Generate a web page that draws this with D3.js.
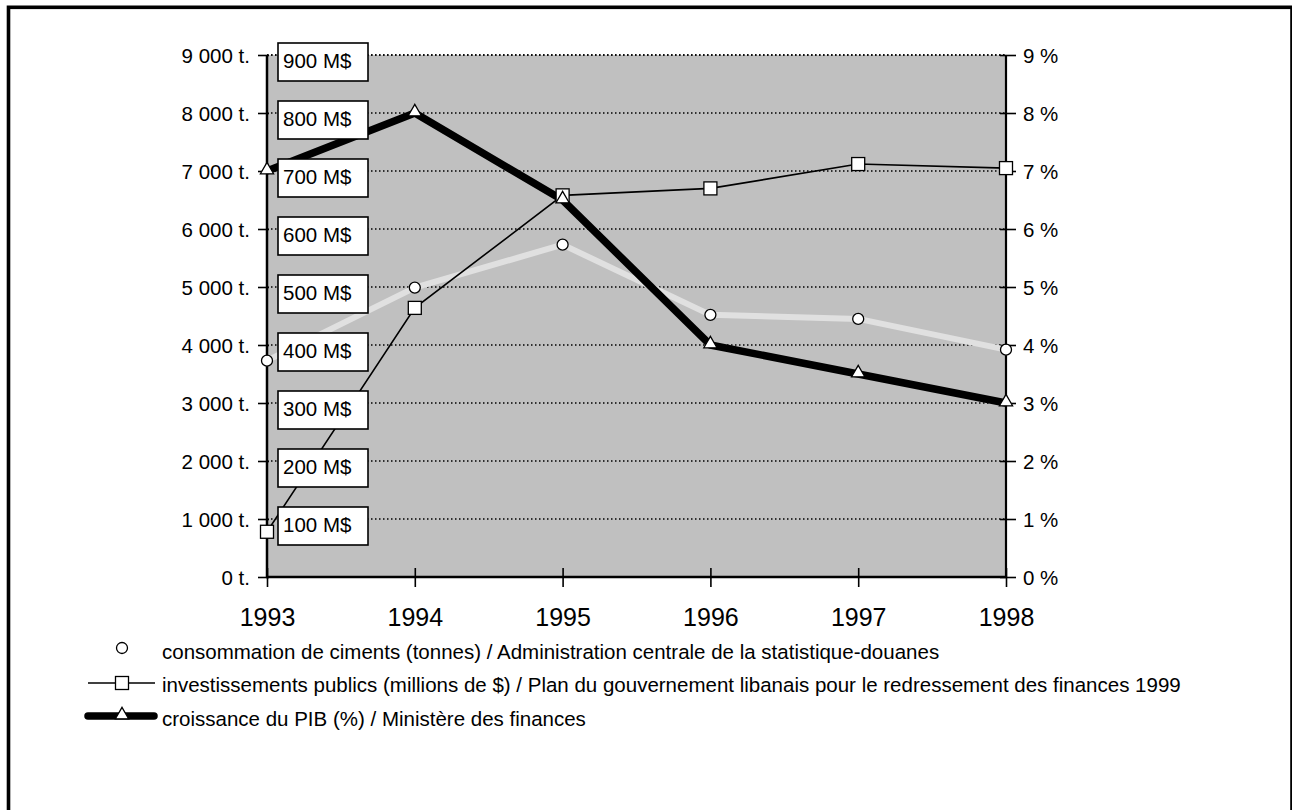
<!DOCTYPE html>
<html><head><meta charset="utf-8">
<script src="https://cdn.jsdelivr.net/npm/d3@7"></script>
<style>
html,body{margin:0;padding:0;background:#fff;overflow:hidden;}
svg{display:block;font-family:"Liberation Sans",Arial,sans-serif;}
</style></head>
<body>
<svg id="c" width="1292" height="810"></svg>
<script>
const years = [1993, 1994, 1995, 1996, 1997, 1998];
const cement = [3730, 4990, 5730, 4520, 4450, 3920];      // tonnes
const invest = [78, 464, 658, 670, 712, 705];             // millions $
const gdp = [7, 8, 6.5, 4, 3.5, 3];                        // %
const leftTicks = [0,1000,2000,3000,4000,5000,6000,7000,8000,9000];
const rightTicks = [0,1,2,3,4,5,6,7,8,9];
const mTicks = [100,200,300,400,500,600,700,800,900];
const legendLabels = [
  "consommation de ciments (tonnes) / Administration centrale de la statistique-douanes",
  "investissements publics (millions de $) / Plan du gouvernement libanais pour le redressement des finances 1999",
  "croissance du PIB (%) / Ministère des finances"
];

const svg = d3.select("#c");
const X0 = 267, X1 = 1006, Y0 = 577, Y1 = 55;
const x = d3.scalePoint().domain(years).range([X0, X1]);
const yL = d3.scaleLinear().domain([0, 9000]).range([Y0, Y1]);
const yR = d3.scaleLinear().domain([0, 9]).range([Y0, Y1]);
const yM = d3.scaleLinear().domain([0, 900]).range([Y0, Y1]);

// outer frame (bottom edge lies below the picture)
svg.append("rect").attr("x", 8.5).attr("y", 7.3).attr("width", 1283.5).attr("height", 830)
  .attr("fill", "none").attr("stroke", "#000").attr("stroke-width", 3.6);

// plot background
svg.append("rect").attr("x", X0).attr("y", Y1).attr("width", X1 - X0).attr("height", Y0 - Y1)
  .attr("fill", "#c0c0c0");

// gridlines
svg.append("g").selectAll("line").data(leftTicks.filter(d => d > 0)).join("line")
  .attr("x1", X0).attr("x2", X1).attr("y1", d => yL(d)).attr("y2", d => yL(d))
  .attr("stroke", "#000").attr("stroke-width", 1.5).attr("stroke-dasharray", "1.5,2.5");

// axes
const fmtT = d => d3.format(",")(d).replace(/,/g, " ") + " t.";
const gL = svg.append("g").attr("transform", `translate(${X0},0)`)
  .call(d3.axisLeft(yL).tickValues(leftTicks).tickFormat(fmtT).tickSize(9).tickPadding(8));
const gR = svg.append("g").attr("transform", `translate(${X1},0)`)
  .call(d3.axisRight(yR).tickValues(rightTicks).tickFormat(d => d + " %").tickSize(10).tickPadding(7));
const gB = svg.append("g").attr("transform", `translate(0,${Y0})`)
  .call(d3.axisBottom(x).tickSize(10).tickPadding(21));
[gL, gR, gB].forEach(g => {
  g.select(".domain").remove();
  g.selectAll(".tick line").attr("stroke", "#000").attr("stroke-width", 1.6);
  g.selectAll(".tick text").attr("fill", "#000").attr("font-family", "Liberation Sans, Arial, sans-serif");
});
gL.selectAll(".tick line").attr("x2", -9).attr("x1", 2);
gR.selectAll(".tick line").attr("x1", -6);
gB.selectAll(".tick line").attr("y1", -9);
gL.selectAll(".tick text").attr("font-size", 20.5).attr("dy", "0.36em");
gR.selectAll(".tick text").attr("font-size", 20.5).attr("dy", "0.36em");
gB.selectAll(".tick text").attr("font-size", 25).attr("dy", "0.71em");

// axis lines
svg.append("line").attr("x1", X0).attr("x2", X0).attr("y1", Y1).attr("y2", Y0 + 1)
  .attr("stroke", "#000").attr("stroke-width", 2.5);
svg.append("line").attr("x1", X1).attr("x2", X1).attr("y1", Y1).attr("y2", Y0 + 1)
  .attr("stroke", "#000").attr("stroke-width", 2.2);
svg.append("line").attr("x1", X0 - 1).attr("x2", X1 + 1).attr("y1", Y0).attr("y2", Y0)
  .attr("stroke", "#000").attr("stroke-width", 2.5);
// top line (9 000)
svg.append("line").attr("x1", X0).attr("x2", X1).attr("y1", Y1).attr("y2", Y1)
  .attr("stroke", "#000").attr("stroke-width", 1.5).attr("stroke-dasharray", "1.5,2.5");

// series lines
const lineC = d3.line().x((d, i) => x(years[i])).y(d => yL(d));
const lineI = d3.line().x((d, i) => x(years[i])).y(d => yM(d));
const lineG = d3.line().x((d, i) => x(years[i])).y(d => yR(d));
svg.append("path").datum(cement).attr("d", lineC).attr("fill", "none")
  .attr("stroke", "#e0e0e0").attr("stroke-width", 6).attr("stroke-linejoin", "round");
svg.append("path").datum(invest).attr("d", lineI).attr("fill", "none")
  .attr("stroke", "#000").attr("stroke-width", 1.6);
svg.append("path").datum(gdp).attr("d", lineG).attr("fill", "none")
  .attr("stroke", "#000").attr("stroke-width", 7.5).attr("stroke-linejoin", "round");

// markers
const tri = d3.symbol().type(d3.symbolTriangle).size(75);
function circ(g, cx, cy) {
  g.append("circle").attr("cx", cx).attr("cy", cy).attr("r", 5.5)
    .attr("fill", "#fff").attr("stroke", "#000").attr("stroke-width", 1.3);
}
function sq(g, cx, cy) {
  g.append("rect").attr("x", cx - 6.5).attr("y", cy - 6.5).attr("width", 13).attr("height", 13)
    .attr("fill", "#fff").attr("stroke", "#000").attr("stroke-width", 1.3);
}
function tr(g, cx, cy) {
  g.append("path").attr("d", tri()).attr("transform", `translate(${cx},${cy - 1})`)
    .attr("fill", "#fff").attr("stroke", "#000").attr("stroke-width", 1.3);
}
const mk = svg.append("g");
cement.forEach((d, i) => circ(mk, x(years[i]), yL(d)));
invest.forEach((d, i) => sq(mk, x(years[i]), yM(d)));
gdp.forEach((d, i) => tr(mk, x(years[i]), yR(d)));

// M$ boxes
const mb = svg.append("g").selectAll("g").data(mTicks).join("g")
  .attr("transform", d => `translate(278,${yM(d) - 12})`);
mb.append("rect").attr("width", 90).attr("height", 38)
  .attr("fill", "#fff").attr("stroke", "#000").attr("stroke-width", 1.6);
mb.append("text").attr("x", 5).attr("y", 25).attr("font-size", 20.5).attr("fill", "#000")
  .text(d => d + " M$");

// legend
const LX = 162, base = [659, 692, 726];
const lg = svg.append("g").attr("font-size", 20.5).attr("fill", "#000");
legendLabels.forEach((t, i) => lg.append("text").attr("x", LX).attr("y", base[i]).text(t));
// row 1 : cement (its pale line is invisible on white)
circ(svg, 122, base[0] - 11);
// row 2 : invest
svg.append("line").attr("x1", 88).attr("x2", 155).attr("y1", base[1] - 9).attr("y2", base[1] - 9)
  .attr("stroke", "#000").attr("stroke-width", 1.6);
sq(svg, 122, base[1] - 9);
// row 3 : gdp
svg.append("line").attr("x1", 88).attr("x2", 154).attr("y1", base[2] - 10).attr("y2", base[2] - 10)
  .attr("stroke", "#000").attr("stroke-width", 7.5).attr("stroke-linecap", "round");
tr(svg, 122, base[2] - 10);
</script>
</body></html>
